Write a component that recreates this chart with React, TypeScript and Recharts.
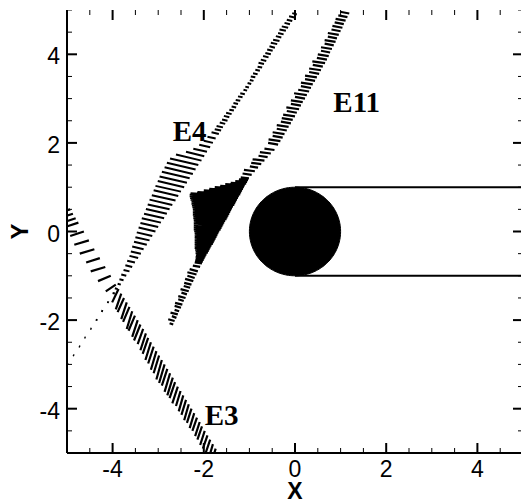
import React from "react";
import { ComposedChart, Line, Area, Scatter, XAxis, YAxis, Label } from "recharts";

const AXIS_TICKS = [-5, -4.5, -4, -3.5, -3, -2.5, -2, -1.5, -1, -0.5, 0, 0.5, 1, 1.5, 2, 2.5, 3, 3.5, 4, 4.5, 5];
const LABELED_TICKS = [-4, -2, 0, 2, 4];
const DOMAIN_MIN = -5;
const DOMAIN_MAX = 5;

const BODY_CENTER = { x: 0, y: 0 };
const BODY_RADIUS = 1;
const WAKE_TOP = [{ x: 0, y: 1 }, { x: 5, y: 1 }];
const WAKE_BOTTOM = [{ x: 0, y: -1 }, { x: 5, y: -1 }];

// vectors along each shock: [x, y, u, v]
const E3_VECTORS = [
  [-4.99, 0.6, -0.1, -0.04],
  [-4.93, 0.5, -0.14, -0.05],
  [-4.87, 0.4, -0.18, -0.06],
  [-4.81, 0.3, -0.2, -0.07],
  [-4.75, 0.2, -0.24, -0.08],
  [-4.63, 0.0, -0.3, -0.1],
  [-4.52, -0.2, -0.32, -0.1],
  [-4.4, -0.4, -0.32, -0.1],
  [-4.28, -0.6, -0.3, -0.1],
  [-4.16, -0.8, -0.32, -0.1],
  [-4.04, -1.0, -0.28, -0.12],
  [-3.93, -1.2, -0.22, -0.15],
  [-3.87, -1.3, -0.14, -0.3],
  [-3.81, -1.4, -0.12, -0.36],
  [-3.75, -1.5, -0.14, -0.32],
  [-3.69, -1.6, -0.12, -0.38],
  [-3.63, -1.7, -0.14, -0.34],
  [-3.57, -1.8, -0.12, -0.4],
  [-3.51, -1.9, -0.14, -0.34],
  [-3.45, -2.0, -0.12, -0.38],
  [-3.39, -2.1, -0.14, -0.36],
  [-3.33, -2.2, -0.12, -0.34],
  [-3.27, -2.3, -0.12, -0.38],
  [-3.22, -2.4, -0.12, -0.36],
  [-3.16, -2.5, -0.12, -0.4],
  [-3.1, -2.6, -0.12, -0.38],
  [-3.04, -2.7, -0.12, -0.42],
  [-2.98, -2.8, -0.12, -0.4],
  [-2.92, -2.9, -0.12, -0.44],
  [-2.86, -3.0, -0.12, -0.42],
  [-2.8, -3.1, -0.12, -0.38],
  [-2.74, -3.2, -0.12, -0.42],
  [-2.68, -3.3, -0.12, -0.4],
  [-2.63, -3.4, -0.12, -0.36],
  [-2.57, -3.5, -0.12, -0.38],
  [-2.51, -3.6, -0.1, -0.34],
  [-2.45, -3.7, -0.1, -0.36],
  [-2.39, -3.8, -0.1, -0.34],
  [-2.33, -3.9, -0.1, -0.36],
  [-2.27, -4.0, -0.1, -0.32],
  [-2.21, -4.1, -0.1, -0.34],
  [-2.15, -4.2, -0.1, -0.3],
  [-2.09, -4.3, -0.1, -0.32],
  [-2.04, -4.4, -0.1, -0.3],
  [-1.98, -4.5, -0.1, -0.32],
  [-1.92, -4.6, -0.1, -0.3],
  [-1.86, -4.7, -0.1, -0.3],
  [-1.8, -4.8, -0.08, -0.28],
  [-1.74, -4.9, -0.08, -0.28],
  [-1.68, -5.0, -0.08, -0.26],
];

const E4_VECTORS = [
  [-4.97, -3.0, -0.03, 0.01],
  [-4.84, -2.8, -0.03, 0.01],
  [-4.71, -2.6, -0.03, 0.01],
  [-4.59, -2.4, -0.03, 0.01],
  [-4.46, -2.2, -0.03, 0.01],
  [-4.33, -2.0, -0.04, 0.01],
  [-4.21, -1.8, -0.04, 0.01],
  [-4.08, -1.6, -0.04, 0.01],
  [-3.95, -1.4, -0.05, 0.01],
  [-3.89, -1.3, -0.06, 0.02],
  [-3.82, -1.2, -0.07, 0.02],
  [-3.76, -1.1, -0.09, 0.02],
  [-3.7, -1.0, -0.11, 0.03],
  [-3.63, -0.9, -0.13, 0.03],
  [-3.57, -0.8, -0.15, 0.04],
  [-3.51, -0.7, -0.17, 0.04],
  [-3.44, -0.6, -0.19, 0.05],
  [-3.38, -0.5, -0.22, 0.05],
  [-3.32, -0.4, -0.25, 0.06],
  [-3.25, -0.3, -0.28, 0.07],
  [-3.19, -0.2, -0.31, 0.07],
  [-3.13, -0.1, -0.34, 0.08],
  [-3.06, 0.0, -0.37, 0.09],
  [-3.0, 0.1, -0.39, 0.09],
  [-2.94, 0.2, -0.42, 0.1],
  [-2.87, 0.3, -0.44, 0.1],
  [-2.81, 0.4, -0.46, 0.11],
  [-2.75, 0.5, -0.48, 0.11],
  [-2.69, 0.6, -0.5, 0.12],
  [-2.62, 0.7, -0.52, 0.12],
  [-2.56, 0.8, -0.54, 0.13],
  [-2.5, 0.9, -0.56, 0.13],
  [-2.43, 1.0, -0.58, 0.14],
  [-2.37, 1.1, -0.6, 0.14],
  [-2.31, 1.2, -0.61, 0.15],
  [-2.24, 1.3, -0.62, 0.15],
  [-2.18, 1.4, -0.63, 0.15],
  [-2.12, 1.5, -0.62, 0.15],
  [-2.05, 1.6, -0.56, 0.14],
  [-1.99, 1.7, -0.4, 0.1],
  [-1.93, 1.8, -0.3, 0.07],
  [-1.86, 1.9, -0.24, 0.06],
  [-1.8, 2.0, -0.2, 0.05],
  [-1.74, 2.1, -0.18, 0.04],
  [-1.67, 2.2, -0.16, 0.04],
  [-1.62, 2.28, -0.14, 0.03],
  [-1.58, 2.35, -0.14, 0.03],
  [-1.53, 2.43, -0.12, 0.03],
  [-1.48, 2.5, -0.12, 0.03],
  [-1.44, 2.58, -0.12, 0.03],
  [-1.39, 2.65, -0.12, 0.03],
  [-1.34, 2.73, -0.1, 0.02],
  [-1.29, 2.8, -0.1, 0.02],
  [-1.25, 2.88, -0.1, 0.02],
  [-1.2, 2.95, -0.1, 0.02],
  [-1.15, 3.03, -0.1, 0.02],
  [-1.1, 3.1, -0.1, 0.02],
  [-1.05, 3.18, -0.08, 0.02],
  [-1.01, 3.25, -0.08, 0.02],
  [-0.96, 3.33, -0.08, 0.02],
  [-0.91, 3.4, -0.08, 0.02],
  [-0.87, 3.48, -0.1, 0.02],
  [-0.82, 3.55, -0.1, 0.02],
  [-0.77, 3.63, -0.1, 0.02],
  [-0.72, 3.7, -0.1, 0.02],
  [-0.68, 3.78, -0.12, 0.03],
  [-0.63, 3.85, -0.12, 0.03],
  [-0.58, 3.93, -0.12, 0.03],
  [-0.53, 4.0, -0.12, 0.03],
  [-0.49, 4.08, -0.12, 0.03],
  [-0.44, 4.15, -0.12, 0.03],
  [-0.39, 4.23, -0.14, 0.03],
  [-0.34, 4.3, -0.14, 0.03],
  [-0.3, 4.38, -0.12, 0.03],
  [-0.25, 4.45, -0.12, 0.03],
  [-0.2, 4.53, -0.14, 0.03],
  [-0.15, 4.6, -0.14, 0.03],
  [-0.11, 4.68, -0.12, 0.03],
  [-0.06, 4.75, -0.12, 0.03],
  [-0.01, 4.83, -0.12, 0.03],
  [0.04, 4.9, -0.1, 0.03],
];

const E11_VECTORS = [
  [-2.67, -2.1, -0.08, 0.03],
  [-2.64, -2.02, -0.14, 0.04],
  [-2.6, -1.95, -0.1, 0.04],
  [-2.57, -1.87, -0.16, 0.04],
  [-2.54, -1.8, -0.1, 0.03],
  [-2.5, -1.72, -0.14, 0.04],
  [-2.47, -1.65, -0.16, 0.04],
  [-2.44, -1.57, -0.12, 0.04],
  [-2.4, -1.5, -0.16, 0.04],
  [-2.37, -1.42, -0.12, 0.04],
  [-2.33, -1.35, -0.18, 0.05],
  [-2.3, -1.27, -0.14, 0.04],
  [-2.27, -1.2, -0.16, 0.04],
  [-2.23, -1.12, -0.18, 0.05],
  [-2.2, -1.05, -0.16, 0.05],
  [-2.16, -0.97, -0.2, 0.05],
  [-2.13, -0.9, -0.18, 0.05],
  [-2.08, -0.8, -0.16, 0.03],
  [-2.04, -0.72, -0.16, 0.02],
  [-2.02, -0.68, -0.17, 0.02],
  [-2.0, -0.64, -0.18, 0.02],
  [-1.98, -0.6, -0.2, 0.03],
  [-1.96, -0.56, -0.21, 0.03],
  [-1.94, -0.52, -0.24, 0.03],
  [-1.91, -0.48, -0.27, 0.03],
  [-1.89, -0.44, -0.3, 0.03],
  [-1.87, -0.4, -0.33, 0.03],
  [-1.85, -0.36, -0.35, 0.04],
  [-1.83, -0.32, -0.37, 0.04],
  [-1.8, -0.28, -0.4, 0.04],
  [-1.78, -0.24, -0.42, 0.04],
  [-1.76, -0.2, -0.44, 0.04],
  [-1.74, -0.16, -0.46, 0.04],
  [-1.72, -0.12, -0.48, 0.05],
  [-1.7, -0.08, -0.5, 0.05],
  [-1.68, -0.04, -0.53, 0.05],
  [-1.66, 0.0, -0.56, 0.05],
  [-1.63, 0.04, -0.59, 0.05],
  [-1.61, 0.08, -0.61, 0.05],
  [-1.59, 0.12, -0.63, 0.06],
  [-1.57, 0.16, -0.65, 0.06],
  [-1.55, 0.2, -0.67, 0.06],
  [-1.53, 0.24, -0.7, 0.06],
  [-1.5, 0.28, -0.73, 0.06],
  [-1.48, 0.32, -0.76, 0.06],
  [-1.46, 0.36, -0.78, 0.07],
  [-1.44, 0.4, -0.8, 0.07],
  [-1.42, 0.44, -0.82, 0.07],
  [-1.4, 0.48, -0.85, 0.07],
  [-1.38, 0.52, -0.88, 0.07],
  [-1.36, 0.56, -0.91, 0.07],
  [-1.33, 0.6, -0.94, 0.08],
  [-1.31, 0.64, -0.98, 0.08],
  [-1.29, 0.68, -1.01, 0.08],
  [-1.27, 0.72, -1.04, 0.08],
  [-1.25, 0.76, -1.06, 0.07],
  [-1.23, 0.8, -1.06, 0.06],
  [-1.2, 0.84, -0.94, 0.05],
  [-1.18, 0.88, -0.82, 0.05],
  [-1.16, 0.92, -0.72, 0.04],
  [-1.14, 0.96, -0.62, 0.04],
  [-1.12, 1.0, -0.52, 0.03],
  [-1.1, 1.04, -0.43, 0.03],
  [-1.07, 1.08, -0.34, 0.02],
  [-1.05, 1.12, -0.26, 0.02],
  [-1.03, 1.16, -0.2, 0.02],
  [-1.01, 1.2, -0.18, 0.02],
  [-0.95, 1.28, -0.2, 0.03],
  [-0.88, 1.36, -0.24, 0.03],
  [-0.81, 1.44, -0.18, 0.03],
  [-0.74, 1.52, -0.22, 0.03],
  [-0.67, 1.6, -0.26, 0.03],
  [-0.6, 1.68, -0.2, 0.03],
  [-0.53, 1.76, -0.24, 0.03],
  [-0.45, 1.84, -0.22, 0.03],
  [-0.37, 1.96, -0.22, 0.04],
  [-0.32, 2.04, -0.26, 0.04],
  [-0.27, 2.12, -0.22, 0.04],
  [-0.23, 2.2, -0.26, 0.04],
  [-0.18, 2.28, -0.22, 0.04],
  [-0.14, 2.36, -0.26, 0.04],
  [-0.09, 2.44, -0.22, 0.04],
  [-0.05, 2.52, -0.24, 0.04],
  [0.0, 2.6, -0.26, 0.04],
  [0.04, 2.68, -0.22, 0.04],
  [0.09, 2.76, -0.28, 0.04],
  [0.13, 2.84, -0.22, 0.04],
  [0.17, 2.92, -0.26, 0.04],
  [0.22, 3.0, -0.22, 0.04],
  [0.26, 3.08, -0.28, 0.04],
  [0.31, 3.16, -0.24, 0.04],
  [0.35, 3.24, -0.22, 0.04],
  [0.39, 3.32, -0.26, 0.04],
  [0.44, 3.4, -0.22, 0.04],
  [0.48, 3.48, -0.26, 0.04],
  [0.53, 3.56, -0.22, 0.04],
  [0.57, 3.64, -0.26, 0.04],
  [0.61, 3.72, -0.22, 0.04],
  [0.66, 3.8, -0.28, 0.04],
  [0.7, 3.88, -0.22, 0.04],
  [0.74, 3.96, -0.24, 0.04],
  [0.77, 4.04, -0.2, 0.04],
  [0.81, 4.12, -0.24, 0.04],
  [0.85, 4.2, -0.2, 0.04],
  [0.89, 4.28, -0.24, 0.04],
  [0.92, 4.36, -0.2, 0.04],
  [0.96, 4.44, -0.24, 0.04],
  [1.0, 4.52, -0.2, 0.04],
  [1.04, 4.6, -0.22, 0.04],
  [1.07, 4.68, -0.2, 0.04],
  [1.11, 4.76, -0.22, 0.04],
  [1.15, 4.84, -0.2, 0.04],
  [1.19, 4.92, -0.2, 0.04],
];

const EDGE_LABELS = [
  { name: "E4", x: -2.68, y: 2.05 },
  { name: "E11", x: 0.84, y: 2.69 },
  { name: "E3", x: -1.98, y: -4.36 },
];

const TICK_FONT = "'Liberation Sans', Arial, sans-serif";
const NOTE_FONT = "'Liberation Serif', 'Times New Roman', serif";

// each vector becomes a 2-point segment, followed by a gap
const toSegments = (vectors: number[][]) =>
  vectors.flatMap(([x, y, u, v]) => [
    { x, y },
    { x: x + u, y: y + v },
    { x: x + u, y: null },
  ]);

// outline of the cylinder as a range area
const bodyOutline = Array.from({ length: 91 }, (_, i) => {
  const t = (Math.PI * i) / 90;
  const dx = -BODY_RADIUS * Math.cos(t);
  const h = Math.sqrt(Math.max(0, BODY_RADIUS * BODY_RADIUS - dx * dx));
  return { x: BODY_CENTER.x + dx, body: [BODY_CENTER.y - h, BODY_CENTER.y + h] };
});

const isMajor = (v: number) => Math.abs(v % 2) < 1e-6;
const tickLen = (v: number) => (isMajor(v) ? 10 : 5);
const tickW = (v: number) => (isMajor(v) ? 2 : 1);

// inward tick marks sit on the frame, one set per side
const bottomMarks = AXIS_TICKS.map((t) => ({ x: t, y: DOMAIN_MIN, v: t }));
const topMarks = AXIS_TICKS.map((t) => ({ x: t, y: DOMAIN_MAX, v: t }));
const leftMarks = AXIS_TICKS.map((t) => ({ x: DOMAIN_MIN, y: t, v: t }));
const rightMarks = AXIS_TICKS.map((t) => ({ x: DOMAIN_MAX, y: t, v: t }));

const markShape = (side: string) => ({ cx, cy, payload }: any) => {
  const len = tickLen(payload.v);
  const w = tickW(payload.v);
  if (side === "bottom") return <rect x={cx - w / 2} y={cy - len} width={w} height={len} fill="#000" />;
  if (side === "top") return <rect x={cx - w / 2} y={cy} width={w} height={len} fill="#000" />;
  if (side === "left") return <rect x={cx} y={cy - w / 2} width={len} height={w} fill="#000" />;
  return <rect x={cx - len} y={cy - w / 2} width={len} height={w} fill="#000" />;
};

const BottomLabel = (props: any) => {
  const v = Number(props.payload.value);
  if (!LABELED_TICKS.includes(v)) return <g />;
  return (
    <text x={props.x} y={Number(props.y) + 24} textAnchor="middle" fontSize={23} fontFamily={TICK_FONT} fill="#000">
      {v}
    </text>
  );
};

const LeftLabel = (props: any) => {
  const v = Number(props.payload.value);
  if (!LABELED_TICKS.includes(v)) return <g />;
  return (
    <text x={Number(props.x) - 7} y={Number(props.y) + 10} textAnchor="end" fontSize={23} fontFamily={TICK_FONT} fill="#000">
      {v}
    </text>
  );
};

const XTitle = ({ viewBox }: any) => (
  <text x={viewBox.x + viewBox.width / 2} y={viewBox.y + 46} textAnchor="middle" fontSize={23} fontWeight="bold" fontFamily={TICK_FONT} fill="#000">
    X
  </text>
);

const YTitle = ({ viewBox }: any) => {
  const cx = viewBox.x + 28;
  const cy = viewBox.y + viewBox.height / 2;
  return (
    <text x={cx} y={cy} transform={`rotate(-90 ${cx} ${cy})`} textAnchor="middle" fontSize={24} fontWeight="bold" fontFamily={TICK_FONT} fill="#000">
      Y
    </text>
  );
};

const EdgeLabel = ({ cx, cy, payload }: any) => (
  <text x={cx} y={cy} fontSize={29} fontWeight="bold" fontFamily={NOTE_FONT} fill="#000">
    {payload.name}
  </text>
);

const axisLine = { stroke: "#000", strokeWidth: 2 };

export default function App() {
  return (
    <div style={{ position: "absolute", left: 0, top: 0, width: 521, height: 502, overflow: "hidden", background: "#fff" }}>
      <ComposedChart width={523} height={502} margin={{ top: 10, right: 0, bottom: 0, left: 0 }}>
        <XAxis dataKey="x" type="number" domain={[DOMAIN_MIN, DOMAIN_MAX]} ticks={AXIS_TICKS} interval={0} allowDataOverflow
          height={49} tickSize={0} tickMargin={0} tickLine={false} axisLine={axisLine} tick={BottomLabel}>
          <Label content={XTitle} />
        </XAxis>
        <XAxis xAxisId="top" orientation="top" type="number" domain={[DOMAIN_MIN, DOMAIN_MAX]} allowDataOverflow
          height={0} tick={false} tickLine={false} axisLine={axisLine} />
        <YAxis dataKey="y" type="number" domain={[DOMAIN_MIN, DOMAIN_MAX]} ticks={AXIS_TICKS} interval={0} allowDataOverflow
          width={67} tickSize={0} tickMargin={0} tickLine={false} axisLine={axisLine} tick={LeftLabel}>
          <Label content={YTitle} />
        </YAxis>
        <YAxis yAxisId="right" orientation="right" type="number" domain={[DOMAIN_MIN, DOMAIN_MAX]} allowDataOverflow
          width={0} tick={false} tickLine={false} axisLine={axisLine} />

        <Area data={bodyOutline} dataKey="body" type="linear" fill="#000" fillOpacity={1} stroke="#000" strokeWidth={1} isAnimationActive={false} />
        <Line data={WAKE_TOP} dataKey="y" stroke="#000" strokeWidth={2} dot={false} isAnimationActive={false} />
        <Line data={WAKE_BOTTOM} dataKey="y" stroke="#000" strokeWidth={2} dot={false} isAnimationActive={false} />

        <Line data={toSegments(E3_VECTORS)} dataKey="y" stroke="#000" strokeWidth={2.2} dot={false} isAnimationActive={false} />
        <Line data={toSegments(E4_VECTORS)} dataKey="y" stroke="#000" strokeWidth={2} dot={false} isAnimationActive={false} />
        <Line data={toSegments(E11_VECTORS)} dataKey="y" stroke="#000" strokeWidth={2.2} dot={false} isAnimationActive={false} />

        <Scatter data={bottomMarks} dataKey="y" shape={markShape("bottom")} isAnimationActive={false} />
        <Scatter data={topMarks} dataKey="y" shape={markShape("top")} isAnimationActive={false} />
        <Scatter data={leftMarks} dataKey="y" shape={markShape("left")} isAnimationActive={false} />
        <Scatter data={rightMarks} dataKey="y" shape={markShape("right")} isAnimationActive={false} />

        <Scatter data={EDGE_LABELS} dataKey="y" shape={EdgeLabel} isAnimationActive={false} />
      </ComposedChart>
    </div>
  );
}
